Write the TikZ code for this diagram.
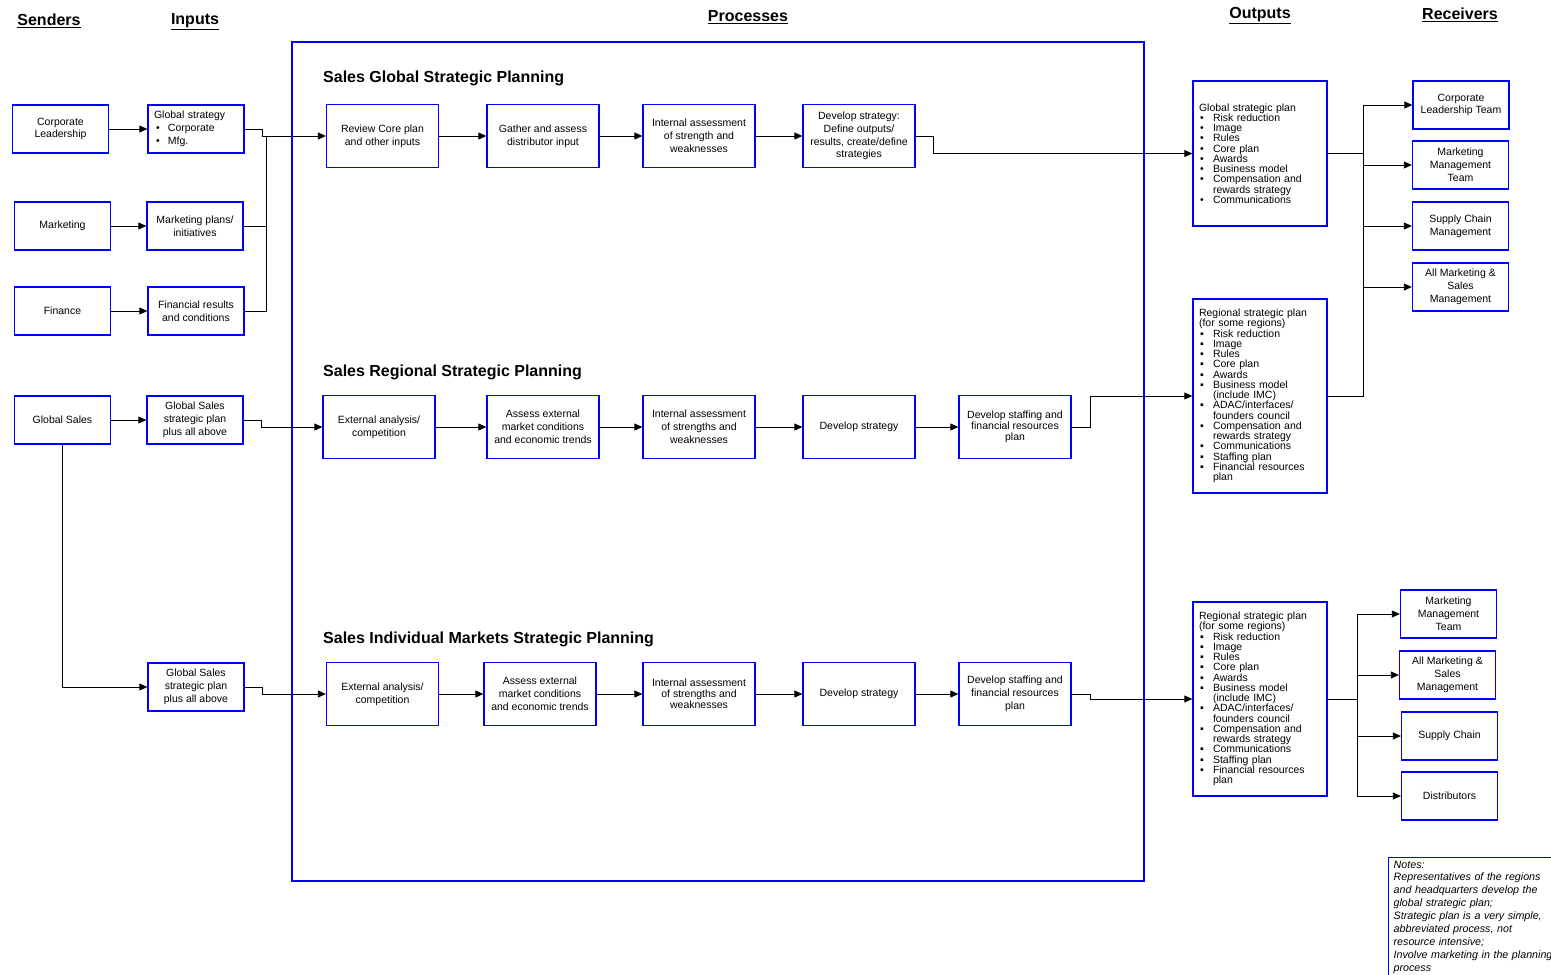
\documentclass[tikz,border=0pt]{standalone}
\usepackage{fontspec}
\setmainfont{Liberation Sans}
\usepackage{tikz}
\usetikzlibrary{arrows.meta,positioning,calc}

\newcommand{\gitem}[1]{\par\noindent\hangindent=14pt\hangafter=1\makebox[14pt][l]{\hspace{1pt}\textbullet}#1}
\newcommand{\ritem}[1]{\par\noindent\hangindent=14pt\hangafter=1\makebox[14pt][l]{\hspace{1pt}▪}#1}

\begin{document}
\begin{tikzpicture}[x=1pt,y=-1pt,
  every node/.style={font=\fontsize{10.5}{12.8}\selectfont},
  box/.style={draw=blue,line width=1.3pt,fill=white,align=center,inner sep=0pt},
  sbox/.style={box,minimum width=96pt,minimum height=48pt},
  pbox/.style={box,minimum width=112pt,minimum height=63pt},
  obox/.style={box,minimum width=134pt,text width=122pt,align=left,font=\fontsize{10.5}{10.25}\selectfont},
  tight/.style={font=\fontsize{10.5}{10.8}\selectfont},
  colhead/.style={font=\fontsize{16}{19}\selectfont\bfseries},
  rowtitle/.style={anchor=west,inner sep=0pt,font=\fontsize{16}{19}\selectfont\bfseries},
  link/.style={-{Triangle[length=8pt,width=7pt]},line width=0.8pt},
  wire/.style={line width=0.8pt}]
\useasboundingbox (0,0) rectangle (1551,975);

\node[colhead] (hsend) at (49,21) {\underline{Senders}};
\node[colhead] (hin) at (195,22) {\underline{Inputs}};
\node[colhead] (hproc) at (748,17) {\underline{Processes}};
\node[colhead] (hout) at (1260,16) {\underline{Outputs}};
\node[colhead] (hrec) at (1460,15) {\underline{Receivers}};

\node[sbox] (cl) at (60.5,129) {Corporate\\Leadership};
\node[sbox] (mkt) at (62.5,226) {Marketing};
\node[sbox] (fin) at (62.5,311) {Finance};
\node[sbox] (gsales) at (62.5,420) {Global Sales};

\node[sbox,align=left,text width=84pt] (inglob) at (196,129) {Global strategy\\\hspace*{2pt}\makebox[12pt][l]{\textbullet}Corporate\\\hspace*{2pt}\makebox[12pt][l]{\textbullet}Mfg.};
\node[sbox] (inmkt) at (195,226) {Marketing plans/\\initiatives};
\node[sbox] (infin) at (196,311) {Financial results\\and conditions};
\node[sbox] (inreg) at (195,420) {Global Sales\\strategic plan\\plus all above};
\node[sbox] (inind) at (196,687) {Global Sales\\strategic plan\\plus all above};

\node[rowtitle] (tglob) at (323,78) {Sales Global Strategic Planning};
\node[rowtitle] (treg) at (323,372) {Sales Regional Strategic Planning};
\node[rowtitle] (tind) at (323,639) {Sales Individual Markets Strategic Planning};

\node[pbox] (g1) at (382.5,136) {Review Core plan\\and other inputs};
\node[pbox] (g2) at (543,136) {Gather and assess\\distributor input};
\node[pbox] (g3) at (699,136) {Internal assessment\\of strength and\\weaknesses};
\node[pbox] (g4) at (859,136) {Develop strategy:\\Define outputs/\\results, create/define\\strategies};

\node[pbox] (r1) at (379,427) {External analysis/\\competition};
\node[pbox] (r2) at (543,427) {Assess external\\market conditions\\and economic trends};
\node[pbox] (r3) at (699,427) {Internal assessment\\of strengths and\\weaknesses};
\node[pbox] (r4) at (859,427) {Develop strategy};
\node[pbox,tight] (r5) at (1015,427) {Develop staffing and\\financial resources\\plan};

\node[pbox] (m1) at (382.5,694) {External analysis/\\competition};
\node[pbox] (m2) at (540,694) {Assess external\\market conditions\\and economic trends};
\node[pbox,tight] (m3) at (699,694) {Internal assessment\\of strengths and\\weaknesses};
\node[pbox] (m4) at (859,694) {Develop strategy};
\node[pbox] (m5) at (1015,694) {Develop staffing and\\financial resources\\plan};

\node[obox,minimum height=145pt] (outglob) at (1260,153.5) {\noindent Global strategic plan
  \gitem{Risk reduction}\gitem{Image}\gitem{Rules}\gitem{Core plan}\gitem{Awards}
  \gitem{Business model}\gitem{Compensation and\newline rewards strategy}\gitem{Communications}\par};
\node[obox,minimum height=194pt] (outreg) at (1260,396) {\noindent Regional strategic plan\newline (for some regions)
  \ritem{Risk reduction}\ritem{Image}\ritem{Rules}\ritem{Core plan}\ritem{Awards}
  \ritem{Business model\newline (include IMC)}\ritem{ADAC/interfaces/\newline founders council}
  \ritem{Compensation and\newline rewards strategy}\ritem{Communications}\ritem{Staffing plan}
  \ritem{Financial resources\newline plan}\par};
\node[obox,minimum height=194pt] (outind) at (1260,699) {\noindent Regional strategic plan\newline (for some regions)
  \ritem{Risk reduction}\ritem{Image}\ritem{Rules}\ritem{Core plan}\ritem{Awards}
  \ritem{Business model\newline (include IMC)}\ritem{ADAC/interfaces/\newline founders council}
  \ritem{Compensation and\newline rewards strategy}\ritem{Communications}\ritem{Staffing plan}
  \ritem{Financial resources\newline plan}\par};

\node[sbox] (clt) at (1461,105) {Corporate\\Leadership Team};
\node[sbox] (mmt) at (1460.5,165) {Marketing\\Management\\Team};
\node[sbox] (scm) at (1460.5,226) {Supply Chain\\Management};
\node[sbox] (ams) at (1460.5,287) {All Marketing \&\\Sales\\Management};

\node[sbox] (mmt2) at (1448.5,614) {Marketing\\Management\\Team};
\node[sbox] (ams2) at (1447.5,675) {All Marketing \&\\Sales\\Management};
\node[sbox] (sc2) at (1449.5,736) {Supply Chain};
\node[sbox] (dist) at (1449.5,796) {Distributors};

\node[draw=blue,line width=1.3pt,anchor=north west,inner xsep=5pt,inner ysep=3pt,text width=170pt,align=left,
  font=\fontsize{10.7}{12.9}\selectfont\itshape] (notes) at (1388,857) {Notes:\\Representatives of the regions\\and headquarters develop the\\global strategic plan;\\Strategic plan is a very simple,\\abbreviated process, not\\resource intensive;\\Involve marketing in the planning\\process\\\mbox{}};

\foreach \s/\t in {cl/inglob,mkt/inmkt,fin/infin,gsales/inreg}
  \draw[link] (\s) -- (\t);

\coordinate (jin) at (266,136);
\draw[link] (inglob.east) -- ++(18,0) |- (g1.west);
\draw[wire] (infin.east) -| (jin);
\draw[wire] (inmkt.east) -- (inmkt.east -| jin);

\draw[link] (gsales.south) |- (inind.west);
\draw[link] (inreg.east) -- ++(18,0) |- (r1.west);
\draw[link] (inind.east) -- ++(18,0) |- (m1.west);

\foreach \a/\b in {g1/g2,g2/g3,g3/g4,r1/r2,r2/r3,r3/r4,r4/r5,m1/m2,m2/m3,m3/m4,m4/m5}
  \draw[link] (\a) -- (\b);

\draw[link] (g4.east) -- ++(18,0) |- (outglob.west);
\draw[link] (r5.east) -- ++(19,0) |- (outreg.west);
\draw[link] (m5.east) -- ++(19,0) |- (outind.west);

\coordinate (jglob) at (1363,105);
\draw[wire] (outglob.east) -- (outglob.east -| jglob);
\draw[wire] (outreg.east) -| (jglob);
\foreach \r in {clt,mmt,scm,ams}
  \draw[link] (\r.west -| jglob) -- (\r.west);

\coordinate (jind) at (1357,614);
\draw[wire] (jind) -- (jind |- dist.west);
\draw[wire] (outind.east) -- (outind.east -| jind);
\foreach \r in {mmt2,ams2,sc2,dist}
  \draw[link] (\r.west -| jind) -- (\r.west);

\draw[blue,line width=2.4pt] (292,42) rectangle (1144,881);
\end{tikzpicture}
\end{document}
